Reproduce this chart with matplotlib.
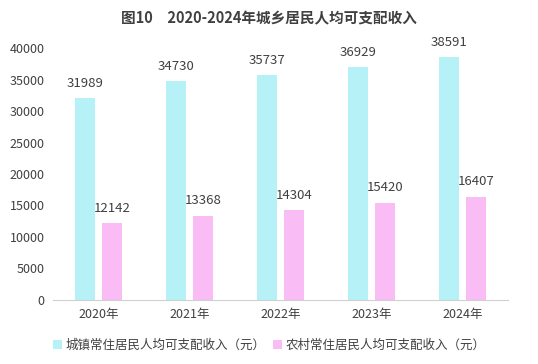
import matplotlib
matplotlib.use('Agg')
import matplotlib.pyplot as plt
import numpy as np

plt.rcParams['font.family'] = ['Noto Sans CJK SC', 'DejaVu Sans']

# ── data ──
years = ['2020年', '2021年', '2022年', '2023年', '2024年']
urban = [31989, 34730, 35737, 36929, 38591]
rural = [12142, 13368, 14304, 15420, 16407]
yticks = [0, 5000, 10000, 15000, 20000, 25000, 30000, 35000, 40000]

URBAN_C = '#b5f1f6'
RURAL_C = '#f9bcf4'
TEXT_C = '#404040'

fig = plt.figure(figsize=(5.38, 3.64), dpi=100)
ax = fig.add_axes([0.0985, 0.176, 0.8455, 0.692])

x = np.arange(len(years))
w = 0.22
off = 0.148
b1 = ax.bar(x - off, urban, w, color=URBAN_C, label='城镇常住居民人均可支配收入（元）')
b2 = ax.bar(x + off, rural, w, color=RURAL_C, label='农村常住居民人均可支配收入（元）')

# value labels above each bar
for bars, vals in [(b1, urban), (b2, rural)]:
    for rect, v in zip(bars, vals):
        ax.annotate(str(v), (rect.get_x() + rect.get_width() / 2, v),
                    xytext=(0, 6), textcoords='offset points', ha='center', va='bottom',
                    fontsize=9.5, color=TEXT_C, annotation_clip=False)

ax.set_xlim(-0.5, len(years) - 0.5)
ax.set_ylim(0, 40000)
ax.set_yticks(yticks)
ax.set_yticklabels([str(t) for t in yticks], fontsize=9, color=TEXT_C)
ax.set_xticks(x)
ax.set_xticklabels(years, fontsize=9, color=TEXT_C)
ax.tick_params(length=0)
ax.tick_params(axis='y', pad=6)
ax.tick_params(axis='x', pad=6)
for s in ['top', 'right', 'left']:
    ax.spines[s].set_visible(False)
ax.spines['bottom'].set_color('#d0d0d0')

fig.text(0.5, 0.95, '图10　2020-2024年城乡居民人均可支配收入', ha='center', va='center',
         fontsize=10.5, color=TEXT_C, fontweight='bold')

fig.legend(loc='center', bbox_to_anchor=(0.5, 0.052), ncol=2, frameon=False,
           fontsize=9, handlelength=0.7, handleheight=0.7, handletextpad=0.3,
           columnspacing=0.6, labelcolor=TEXT_C)

fig.savefig('out.png', dpi=100)
